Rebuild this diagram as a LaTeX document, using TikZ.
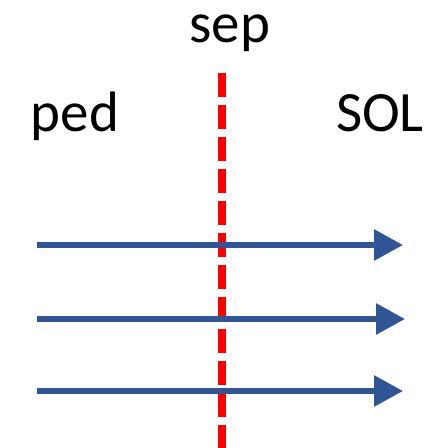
\documentclass[tikz,border=0pt]{standalone}
\usepackage{fontspec}
\setmainfont{Carlito}
\usetikzlibrary{arrows.meta}
\definecolor{flowblue}{RGB}{47,85,151}
\definecolor{sepred}{RGB}{255,0,0}
\tikzset{
  region/.style={font=\fontsize{57}{64}\selectfont, inner sep=0pt, anchor=base},
  separatrix/.style={draw=sepred, line width=8pt, dash pattern=on 24pt off 8pt},
  flow/.style={draw=flowblue, line width=6pt, -{Triangle[length=29pt,width=30pt]}}
}
\begin{document}
\begin{tikzpicture}[x=1pt,y=1pt]
  \fill[white] (0,0) rectangle (431,448);
  \useasboundingbox (0,0) rectangle (431,448);
  % labels
  \node[region] (sep) at (230,405) {sep};
  \node[region] (ped) at (75,316) {ped};
  \node[region] (sol) at (380,316) {SOL};
  % separatrix, dashed from the top down
  \coordinate (septop) at (221.5,375);
  \coordinate (sepbot) at (221.5,0);
  \draw[separatrix] (septop) -- (sepbot);
  % flow lines
  \coordinate (a1) at (37,203);   \coordinate (b1) at (403,203);
  \coordinate (a2) at (37,129);   \coordinate (b2) at (405,129);
  \coordinate (a3) at (37,57);    \coordinate (b3) at (403,57);
  \draw[flow] (a1) -- (b1);
  \draw[flow] (a2) -- (b2);
  \draw[flow] (a3) -- (b3);
\end{tikzpicture}
\end{document}
